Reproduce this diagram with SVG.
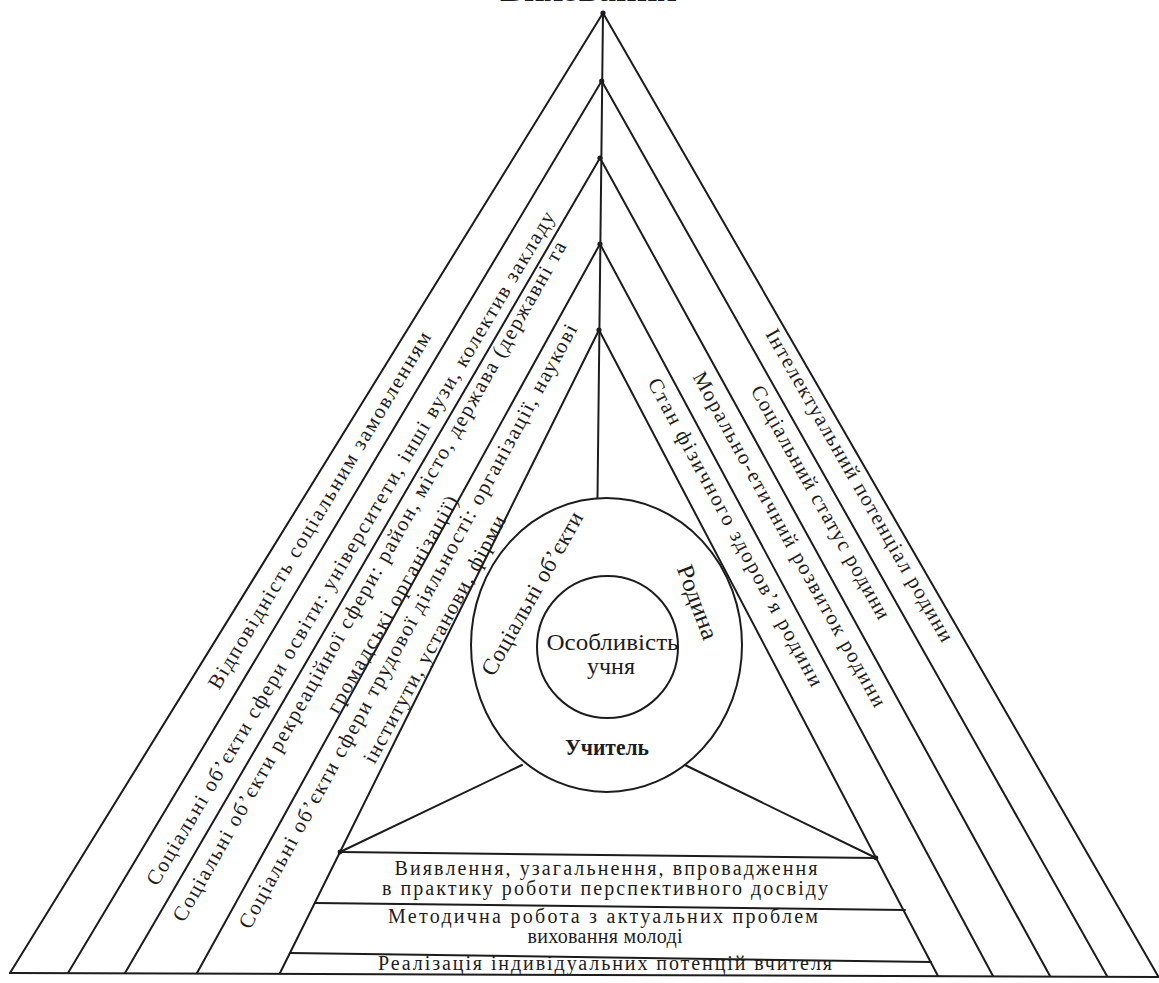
<svg xmlns="http://www.w3.org/2000/svg" width="1159" height="983" viewBox="0 0 1159 983">
<style>
.ln{stroke:#1c1c1c;stroke-width:2;fill:none;stroke-linecap:round}
.dot{fill:#1c1c1c}
.t{font-family:"Liberation Serif","Times New Roman",serif;fill:#1c1c1c;font-size:21px}
.r{font-size:20px}
.c{font-size:24px}
.b{font-weight:bold}
</style>
<rect width="1159" height="983" fill="#ffffff"/>
<g id="title"><text class="t b" x="588.5" y="1" text-anchor="middle" textLength="177" lengthAdjust="spacingAndGlyphs" style="font-size:34px">Виховання</text></g>
<g id="connectors">
<path class="ln" d="M603,13 L10,973"/>
<path class="ln" d="M601.7,81 L68,973"/>
<path class="ln" d="M600,158 L125,973"/>
<path class="ln" d="M600,244 L197,973"/>
<path class="ln" d="M599,330 L280,973"/>
<path class="ln" d="M603,13 L1158,976"/>
<path class="ln" d="M601.7,81 L1107,976"/>
<path class="ln" d="M600,158 L1050,976"/>
<path class="ln" d="M600,244 L993,976"/>
<path class="ln" d="M599,330 L938,976"/>
<path class="ln" d="M10,973 L1159,977"/>
<path class="ln" d="M603,13 L597.5,498"/>
<path class="ln" d="M522,765 L340,852"/>
<path class="ln" d="M685,765 L876,858"/>
<path class="ln" d="M340,852 L876,858"/>
<path class="ln" d="M315,903 L905,910"/>
<path class="ln" d="M290,953 L931,962"/>
<circle class="dot" cx="603" cy="13" r="2.6"/>
<circle class="dot" cx="601.7" cy="81" r="2.6"/>
<circle class="dot" cx="600" cy="158" r="2.6"/>
<circle class="dot" cx="600" cy="244" r="2.6"/>
<circle class="dot" cx="599" cy="330" r="2.6"/>
<circle class="dot" cx="340" cy="852" r="2.4"/>
<circle class="dot" cx="876" cy="858" r="2.4"/>
</g>
<g id="left-strip-1"><text class="t" transform="translate(319,510) rotate(-59)" text-anchor="middle" dy="0.35em" textLength="413" lengthAdjust="spacing">Відповідність соціальним замовленням</text></g>
<g id="left-strip-2"><text class="t" transform="translate(350,548) rotate(-59.3)" text-anchor="middle" dy="0.35em" textLength="780" lengthAdjust="spacing">Соціальні об’єкти сфери освіти: університети, інші вузи, колектив закладу</text></g>
<g id="left-strip-3">
<text class="t" transform="translate(369,581) rotate(-60.5)" text-anchor="middle" dy="0.35em" textLength="778" lengthAdjust="spacing">Соціальні об’єкти рекреаційної сфери: район, місто, держава (державні та</text>
<text class="t" transform="translate(392,604) rotate(-60.5)" text-anchor="middle" dy="0.35em" textLength="246" lengthAdjust="spacing">громадські організації)</text>
</g>
<g id="left-strip-4">
<text class="t" transform="translate(407.5,626) rotate(-61.4)" text-anchor="middle" dy="0.35em" textLength="685" lengthAdjust="spacing">Соціальні об’єкти сфери трудової діяльності: організації, наукові</text>
<text class="t" transform="translate(434,639) rotate(-61.7)" text-anchor="middle" dy="0.35em" textLength="278" lengthAdjust="spacing">інститути, установи, фірми</text>
</g>
<g id="right-strip-1"><text class="t" transform="translate(860,485) rotate(60.2)" text-anchor="middle" dy="0.35em" textLength="357" lengthAdjust="spacing">Інтелектуальний потенціал родини</text></g>
<g id="right-strip-2"><text class="t" transform="translate(821,502) rotate(60.8)" text-anchor="middle" dy="0.35em" textLength="264" lengthAdjust="spacing">Соціальний статус родини</text></g>
<g id="right-strip-3"><text class="t" transform="translate(790,539) rotate(61.2)" text-anchor="middle" dy="0.35em" textLength="379" lengthAdjust="spacing">Морально-етичний розвиток родини</text></g>
<g id="right-strip-4"><text class="t" transform="translate(736,532) rotate(61.7)" text-anchor="middle" dy="0.35em" textLength="347" lengthAdjust="spacing">Стан фізичного здоров’я родини</text></g>
<g id="outer-circle">
<ellipse class="ln" cx="606.5" cy="645" rx="135.5" ry="147" style="fill:#fff"/>
<text class="t" transform="translate(531.7,593.3) rotate(-60.6)" text-anchor="middle" dy="0.35em" style="font-size:23px" textLength="184" lengthAdjust="spacing">Соціальні об’єкти</text>
<text class="t c" transform="translate(698,602) rotate(69.7)" text-anchor="middle" dy="0.35em" textLength="78" lengthAdjust="spacingAndGlyphs">Родина</text>
<text class="t b" x="607" y="755" text-anchor="middle" style="font-size:24px" textLength="84" lengthAdjust="spacingAndGlyphs">Учитель</text>
</g>
<g id="inner-circle">
<ellipse class="ln" cx="607.5" cy="647" rx="70.5" ry="71"/>
<text class="t c" x="612.5" y="650" text-anchor="middle" textLength="132" lengthAdjust="spacingAndGlyphs">Особливість</text>
<text class="t c" x="611" y="674" text-anchor="middle">учня</text>
</g>
<g id="row-1">
<text class="t r" x="606" y="875" text-anchor="middle" textLength="423" lengthAdjust="spacing">Виявлення, узагальнення, впровадження</text>
<text class="t r" x="605" y="895" text-anchor="middle" textLength="446" lengthAdjust="spacing">в практику роботи перспективного досвіду</text>
</g>
<g id="row-2">
<text class="t r" x="603" y="923" text-anchor="middle" textLength="430" lengthAdjust="spacing">Методична робота з актуальних проблем</text>
<text class="t r" x="605" y="943" text-anchor="middle" textLength="155" lengthAdjust="spacing">виховання молоді</text>
</g>
<g id="row-3">
<text class="t r" x="605" y="970" text-anchor="middle" textLength="454" lengthAdjust="spacing">Реалізація індивідуальних потенцій вчителя</text>
</g>
</svg>
